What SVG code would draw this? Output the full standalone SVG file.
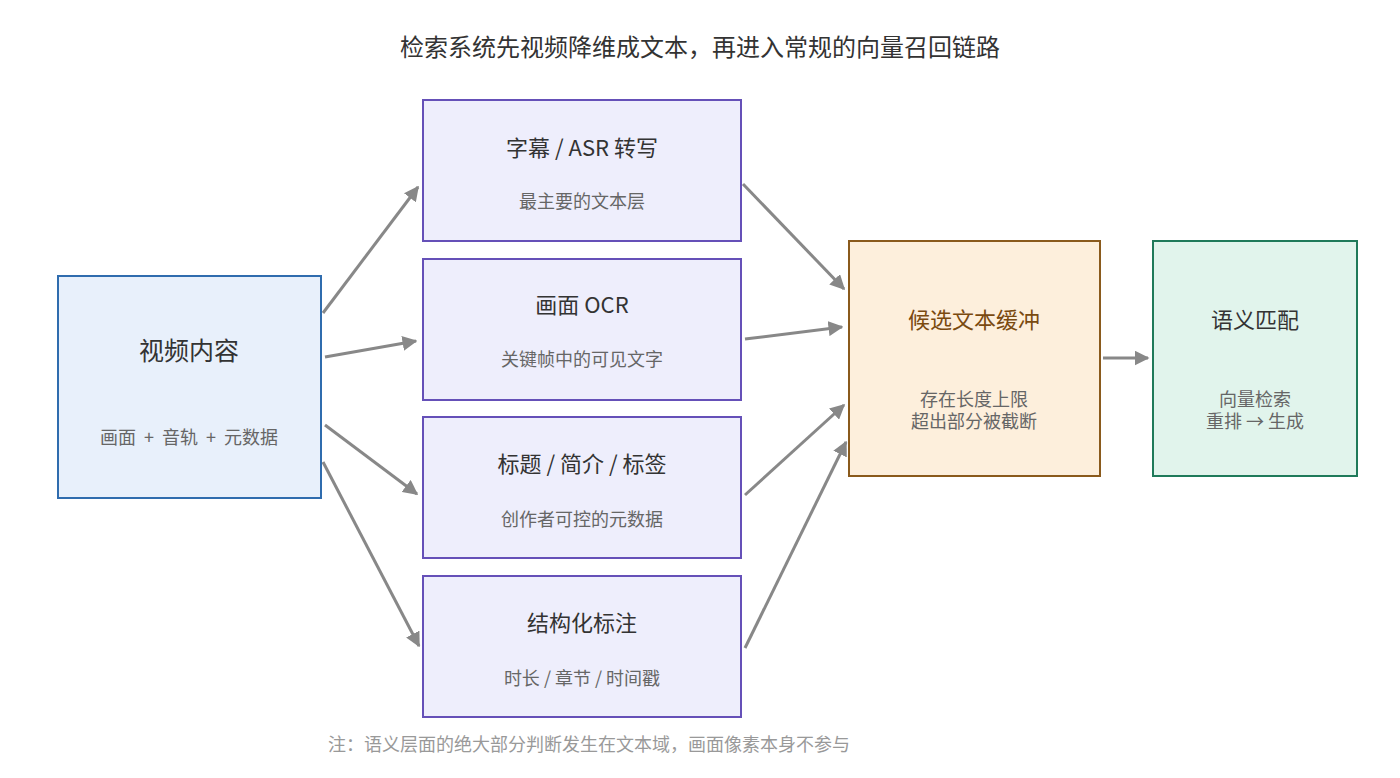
<svg xmlns="http://www.w3.org/2000/svg" width="1400" height="778" viewBox="0 0 1400 778">
<defs>
<marker id="ah" viewBox="0 0 10 10" refX="9" refY="5" markerWidth="5" markerHeight="5" orient="auto" markerUnits="strokeWidth">
<path d="M0,0 L10,5 L0,10 z" fill="#888888"/>
</marker>
<style>
text{font-family:"Noto Sans CJK SC","Noto Sans",sans-serif;text-anchor:middle;dominant-baseline:central}
.t{font-size:22px;fill:#333}
.s{font-size:18px;fill:#666}
.src{fill:#e8f0fb;stroke:#2f6cae;stroke-width:2}
.mid{fill:#eeeefc;stroke:#6550b8;stroke-width:2}
.buf{fill:#fdefdc;stroke:#8a5a1c;stroke-width:2}
.sem{fill:#e1f4ec;stroke:#1f7a5a;stroke-width:2}
.c{stroke:#888888;stroke-width:3;fill:none;marker-end:url(#ah)}
</style>
</defs>
<rect width="1400" height="778" fill="#ffffff"/>
<text x="700" y="45" style="font-size:24px;fill:#333">检索系统先视频降维成文本，再进入常规的向量召回链路</text>
<g id="connectors">
<line class="c" x1="323" y1="313" x2="418" y2="187"/>
<line class="c" x1="325" y1="357" x2="416" y2="341"/>
<line class="c" x1="325" y1="425" x2="417" y2="494"/>
<line class="c" x1="323" y1="462" x2="419" y2="646"/>
<line class="c" x1="743" y1="184" x2="844" y2="289"/>
<line class="c" x1="745" y1="339" x2="842" y2="327"/>
<line class="c" x1="745" y1="495" x2="844" y2="405"/>
<line class="c" x1="745" y1="648" x2="846" y2="442"/>
<line class="c" x1="1103" y1="358" x2="1148" y2="358"/>
</g>
<g id="video">
<rect class="src" x="58" y="276" width="263" height="222"/>
<text class="t" x="189" y="349" style="font-size:25px">视频内容</text>
<text class="s" x="189" y="436" style="word-spacing:4px">画面 + 音轨 + 元数据</text>
</g>
<g id="asr">
<rect class="mid" x="423" y="100" width="318" height="141"/>
<text class="t" x="582" y="146">字幕 / ASR 转写</text>
<text class="s" x="582" y="200">最主要的文本层</text>
</g>
<g id="ocr">
<rect class="mid" x="423" y="259" width="318" height="141"/>
<text class="t" x="582" y="303">画面 OCR</text>
<text class="s" x="582" y="358">关键帧中的可见文字</text>
</g>
<g id="meta">
<rect class="mid" x="423" y="417" width="318" height="141"/>
<text class="t" x="582" y="462">标题 / 简介 / 标签</text>
<text class="s" x="582" y="518">创作者可控的元数据</text>
</g>
<g id="struct">
<rect class="mid" x="423" y="576" width="318" height="141"/>
<text class="t" x="582" y="621">结构化标注</text>
<text class="s" x="582" y="677">时长 / 章节 / 时间戳</text>
</g>
<g id="buffer">
<rect class="buf" x="849" y="241" width="251" height="235"/>
<text class="t" x="974" y="318" style="fill:#7a4a10">候选文本缓冲</text>
<text class="s" x="974" y="398">存在长度上限</text>
<text class="s" x="974" y="420">超出部分被截断</text>
</g>
<g id="semantic">
<rect class="sem" x="1153" y="241" width="204" height="235"/>
<text class="t" x="1255" y="318">语义匹配</text>
<text class="s" x="1255" y="398">向量检索</text>
<text class="s" x="1255" y="420">重排 → 生成</text>
</g>
<text x="589" y="743" style="font-size:18px;fill:#999">注：语义层面的绝大部分判断发生在文本域，画面像素本身不参与</text>
</svg>
